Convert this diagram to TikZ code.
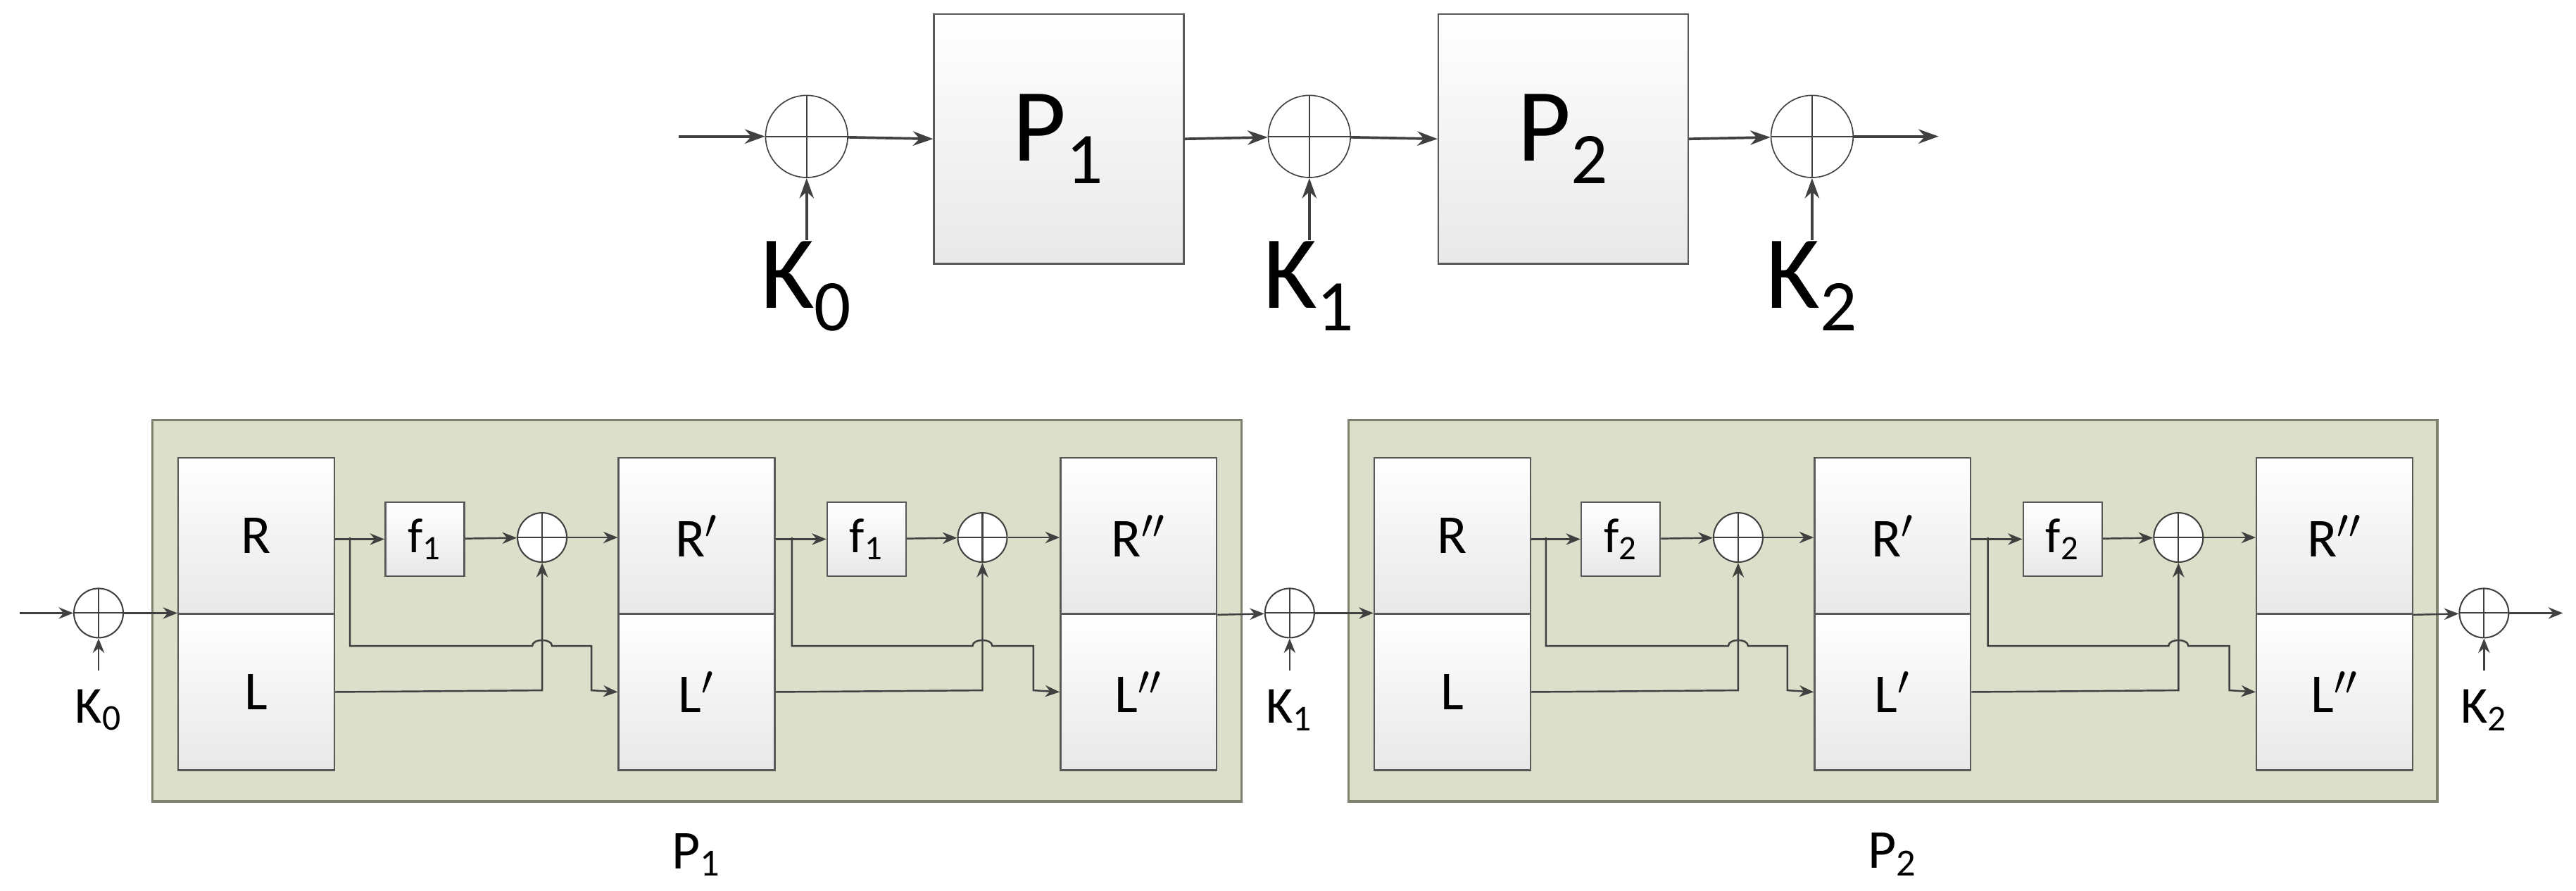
\documentclass[tikz,border=0pt]{standalone}
\usepackage{fontspec}
\setmainfont{Carlito}
\usetikzlibrary{arrows.meta}
\definecolor{ln}{HTML}{404040}
\definecolor{grn}{HTML}{DCE0CA}
\definecolor{grnb}{HTML}{7E826E}
\begin{document}
\begin{tikzpicture}[x=0.02cm,y=-0.02cm,
  blk/.style={draw=gray!70!black,line width=0.6pt,top color=white,bottom color=gray!18,inner sep=0pt,anchor=north west},
  big/.style={blk,minimum width=3.04cm,minimum height=3.04cm,font=\fontsize{36}{40}\selectfont},
  half/.style={blk,minimum width=1.9cm,minimum height=1.9cm,font=\fontsize{19}{22}\selectfont},
  fbox/.style={blk,minimum width=0.96cm,minimum height=0.9cm,font=\fontsize{17}{20}\selectfont},
  xorb/.style={circle,draw=ln,fill=white,minimum size=1.0cm,inner sep=0pt,path picture={\draw[ln] (path picture bounding box.north)--(path picture bounding box.south) (path picture bounding box.west)--(path picture bounding box.east);}},
  xors/.style={xorb,minimum size=0.6cm,line width=0.5pt},
  ar/.style={draw=ln,line width=0.9pt,-{Stealth[length=7pt,width=5pt]}},
  ars/.style={draw=ln,line width=0.6pt,-{Stealth[length=5pt,width=4pt]}},
  grp/.style={draw=grnb,fill=grn,line width=0.8pt,anchor=north west,minimum width=13.26cm,minimum height=4.64cm,inner sep=0pt}]
\useasboundingbox (0,0) rectangle (1568,542);
% top row
\coordinate (tin) at (413,83);
\node[xorb] (tx0) at (491,83) {};
\node[big] (tp1) at (568,8) {P\textsubscript{1}};
\node[xorb] (tx1) at (797,83) {};
\node[big] (tp2) at (875,8) {P\textsubscript{2}};
\node[xorb] (tx2) at (1103,83) {};
\coordinate (tout) at (1180,83);
\foreach \i/\x in {0/491,1/797,2/1103}{
  \node[font=\fontsize{36}{40}\selectfont] (tk\i) at (\x,174) {K\textsubscript{\i}};
  \coordinate (tka\i) at (\x,146);
  \draw[ar] (tka\i) -- (tx\i);
}
\draw[ar] (tin) -- (tx0);
\draw[ar] (tx0) -- (tp1.west);
\draw[ar] (tp1.east) -- (tx1);
\draw[ar] (tx1) -- (tp2.west);
\draw[ar] (tp2.east) -- (tx2);
\draw[ar] (tx2) -- (tout);
% bottom groups
\foreach \o/\n in {0/1,728/2}{
  \begin{scope}[xshift=\o*0.02cm]
  \node[grp] (g\n) at (92,255) {};
  \node[font=\fontsize{19}{22}\selectfont] (gl\n) at (424,520) {P\textsubscript{\n}};
  \node[half] (R\n) at (108,278) {R};
  \node[half] (L\n) at (108,373) {L};
  \node[half] (Ra\n) at (376,278) {R$'$};
  \node[half] (La\n) at (376,373) {L$'$};
  \node[half] (Rb\n) at (645,278) {R$''$};
  \node[half] (Lb\n) at (645,373) {L$''$};
  \node[fbox] (fa\n) at (234,305) {f\textsubscript{\n}};
  \node[fbox] (fb\n) at (503,305) {f\textsubscript{\n}};
  \node[xors] (xa\n) at (330,327) {};
  \node[xors] (xb\n) at (598,327) {};
  \coordinate (ba\n) at (213,327);
  \coordinate (bb\n) at (482,327);
  \draw[ars] (R\n.east|-fa\n) -- (fa\n);
  \draw[ars] (fa\n) -- (xa\n);
  \draw[ars] (xa\n) -- (Ra\n.west|-xa\n);
  \draw[ars] (Ra\n.east|-fb\n) -- (fb\n);
  \draw[ars] (fb\n) -- (xb\n);
  \draw[ars] (xb\n) -- (Rb\n.west|-xb\n);
  \draw[ars] (L\n.east) -- (330,420) -- (xa\n);
  \draw[ars] (La\n.east) -- (598,420) -- (xb\n);
  \draw[ars] (ba\n) -- (213,393) -- (324,393) to[out=90,in=90] (336,393) -- (360,393) -- (360,420) -- (La\n.west);
  \draw[ars] (bb\n) -- (482,393) -- (592,393) to[out=90,in=90] (604,393) -- (629,393) -- (629,420) -- (Lb\n.west);
  \end{scope}
}
% bottom xors
\foreach \i/\x in {0/60,1/785,2/1512}{
  \node[xors] (bx\i) at (\x,373) {};
  \node[font=\fontsize{18}{21}\selectfont] (bk\i) at (\x,432) {K\textsubscript{\i}};
  \coordinate (bka\i) at (\x,408);
  \draw[ars] (bka\i) -- (bx\i);
}
\coordinate (bin) at (12,373);
\coordinate (bout) at (1560,373);
\draw[ars] (bin) -- (bx0);
\draw[ars] (bx0) -- (L1.north west);
\draw[ars] (Rb1.south east) -- (bx1);
\draw[ars] (bx1) -- (L2.north west);
\draw[ars] (Rb2.south east) -- (bx2);
\draw[ars] (bx2) -- (bout);
\end{tikzpicture}
\end{document}
